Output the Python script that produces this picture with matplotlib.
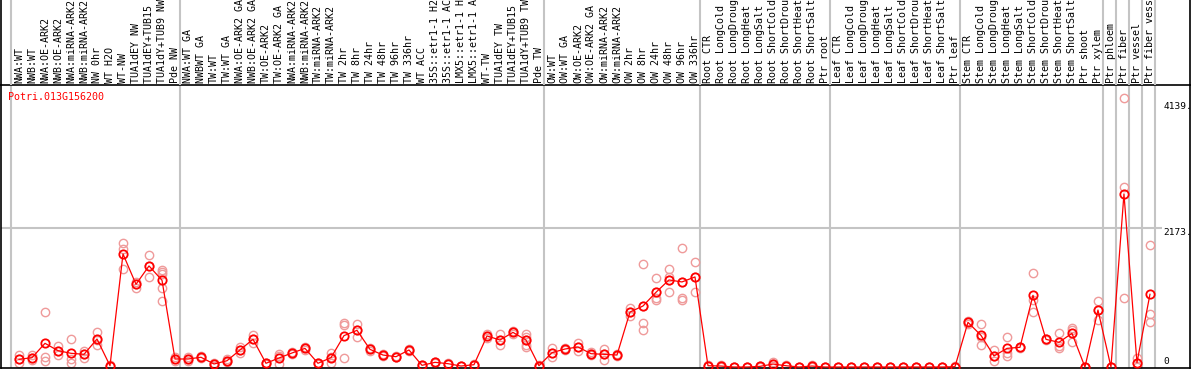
import numpy as np
import matplotlib
matplotlib.use("Agg")
import matplotlib.pyplot as plt

# ---------------- data ----------------
samples = [
    "NWA:WT", "NWB:WT", "NWA:OE-ARK2", "NWB:OE-ARK2", "NWA:miRNA-ARK2", "NWB:miRNA-ARK2",
    "NW 0hr", "WT H2O", "WT-NW", "TUA1dEY NW", "TUA1dEY+TUB15 NW", "TUA1dY+TUB9 NW", "Pde NW",
    "NWA:WT GA", "NWBWT GA", "TW:WT", "TW:WT GA", "NWA:OE-ARK2 GA", "NWB:OE-ARK2 GA",
    "TW:OE-ARK2", "TW:OE-ARK2 GA", "NWA:miRNA-ARK2", "NWB:miRNA-ARK2", "TW:miRNA-ARK2",
    "TW:miRNA-ARK2", "TW 2hr", "TW 8hr", "TW 24hr", "TW 48hr", "TW 96hr", "TW 336hr",
    "WT ACC", "35S::etr1-1 H2O", "35S::etr1-1 ACC", "LMX5::etr1-1 H2O", "LMX5::etr1-1 ACC",
    "WT-TW", "TUA1dEY TW", "TUA1dEY+TUB15 TW", "TUA1dY+TUB9 TW", "Pde TW",
    "OW:WT", "OW:WT GA", "OW:OE-ARK2", "OW:OE-ARK2 GA", "OW:miRNA-ARK2", "OW:miRNA-ARK2",
    "OW 2hr", "OW 8hr", "OW 24hr", "OW 48hr", "OW 96hr", "OW 336hr",
    "Root CTR", "Root LongCold", "Root LongDrought", "Root LongHeat", "Root LongSalt",
    "Root ShortCold", "Root ShortDrought", "Root ShortHeat", "Root ShortSalt", "Ptr root",
    "Leaf CTR", "Leaf LongCold", "Leaf LongDrought", "Leaf LongHeat", "Leaf LongSalt",
    "Leaf ShortCold", "Leaf ShortDrought", "Leaf ShortHeat", "Leaf ShortSalt", "Ptr leaf",
    "Stem CTR", "Stem LongCold", "Stem LongDrought", "Stem LongHeat", "Stem LongSalt",
    "Stem ShortCold", "Stem ShortDrought", "Stem ShortHeat", "Stem ShortSalt", "Ptr shoot",
    "Ptr xylem", "Ptr phloem", "Ptr fiber", "Ptr vessel", "Ptr fiber vessel",
]

mean_expr = [
    120, 146, 370, 255, 214, 198, 437, 20, 1766, 1292, 1579, 1355, 125,
    125, 152, 47, 98, 266, 433, 58, 141, 219, 291, 58, 146,
    490, 573, 276, 187, 161, 266, 26, 73, 52, 15, 36, 485, 422, 541, 422, 20,
    224, 281, 313, 208, 198, 187, 859, 953, 1167, 1360, 1329, 1407,
    20, 15, 0, 0, 10, 46, 20, 0, 15, 0,
    0, 0, 0, 0, 0, 0, 0, 0, 0, 5,
    698, 495, 172, 291, 308, 1120, 432, 386, 526, 0,
    890, 0, 2704, 68, 1136,
]

replicates = [
    [187, 120, 58], [187, 146, 105], [859, 161, 98], [333, 255, 187], [437, 120, 68],
    [255, 198, 141], [542, 425, 344], [15, 20, 25], [1933, 1840, 1527], [1334, 1292, 1230],
    [1751, 1579, 1402], [1516, 1480, 1448, 1240, 1031], [160, 120, 95],
    [152, 125, 98], [165, 152, 140], [70, 50, 20], [120, 98, 76], [318, 266, 214],
    [500, 433, 370], [70, 58, 46], [204, 172, 47], [240, 219, 198], [320, 291, 262],
    [70, 58, 46], [214, 152, 68],
    [683, 660, 135], [667, 573, 474], [300, 276, 250], [200, 187, 175], [170, 161, 150],
    [280, 266, 250], [35, 26, 15], [85, 73, 60], [60, 52, 45], [20, 15, 10], [45, 36, 28],
    [520, 485, 450], [516, 422, 344], [562, 541, 520], [516, 474, 422, 344, 308], [35, 20, 5],
    [300, 224, 150], [300, 281, 262], [370, 313, 250], [230, 208, 186], [285, 198, 115],
    [200, 187, 174], [917, 859, 800], [1605, 953, 683, 578], [1386, 1167, 1074, 1047],
    [1527, 1412, 1360, 1167], [1855, 1329, 1074, 1047], [1636, 1407, 1167],
    [30, 20, 10], [25, 15, 5], [0, 0, 0], [0, 0, 0], [20, 10, 0], [80, 46, 10],
    [30, 20, 10], [0, 0, 0], [25, 15, 5], [0, 0, 0],
    [0, 0, 0], [0, 0, 0], [0, 0, 0], [0, 0, 0], [0, 0, 0], [0, 0, 0], [0, 0, 0],
    [0, 0, 0], [0, 0, 0], [10, 5, 0],
    [720, 698, 676], [667, 470, 350], [266, 172, 94], [465, 224, 172], [320, 308, 296],
    [1464, 1040, 856], [445, 432, 420], [526, 330, 304], [605, 580, 392], [0, 0, 0],
    [1031, 890, 735], [0, 0, 0], [4200, 2818, 1074], [136, 68, 5], [1907, 824, 698],
]

gene_id = "Potri.013G156200"
tick_values = [0, 2173, 4139]
tick_texts = ["0", "2173.", "4139."]
# group boundaries (between sample positions)
group_edges = [-0.6, 12.4, 40.4, 52.4, 62.4, 72.4, 83.4, 84.4, 85.4, 86.4, 87.4]

# ---------------- layout ----------------
W, H = 1194, 370
fig = plt.figure(figsize=(W / 100, H / 100), dpi=100)
mono = "DejaVu Sans Mono"

ax = fig.add_axes([1 / W, 2 / H, 1189 / W, 283 / H])
lab = fig.add_axes([1 / W, 285 / H, 1189 / W, 85 / H])

xl = (-1.385, 90.08)
ax.set_xlim(*xl)
ax.set_ylim(-15.6, 4406)
lab.set_xlim(*xl)
lab.set_ylim(0, 1)

x = np.arange(len(samples))

grid_c = "#c4c4c4"
for b in group_edges:
    ax.axvline(b, color=grid_c, lw=1.5, zorder=0)
    lab.axvline(b, color=grid_c, lw=1.5, zorder=0)
ax.hlines(tick_values[1], xl[0], 87.9, color=grid_c, lw=1.5, zorder=0)

# replicates
for k, reps in enumerate(replicates):
    ax.plot([k] * len(reps), reps, linestyle="none", marker="o", mfc="none",
            mec="#ef9a9a", ms=6, mew=1.0, zorder=2)

# mean line
ax.plot(x, mean_expr, color="red", lw=0.9, marker="o", mfc="none", mec="red",
        ms=6, mew=1.3, zorder=3)

ax.set_xticks([])
ax.set_yticks([])
for s in ax.spines.values():
    s.set_color("black")
    s.set_linewidth(1.2)

lab.set_xticks([])
lab.set_yticks([])
for name, s in lab.spines.items():
    if name in ("left", "right"):
        s.set_color("black")
        s.set_linewidth(1.2)
    else:
        s.set_visible(False)
lab.patch.set_alpha(0)

for k, name in enumerate(samples):
    lab.text(k, 0.025, name, rotation=90, ha="center", va="bottom",
             fontsize=7.2, family=mono, color="black")

offsets = [3.8, -3.1, -3.1]
for v, t, off in zip(tick_values, tick_texts, offsets):
    ax.annotate(t, xy=(88.02, v), xytext=(0, off), textcoords="offset points",
                ha="left", va="center", fontsize=6.8, family=mono, color="black")

ax.text(7 / 1189, (368 - 97) / 283, gene_id, transform=ax.transAxes, color="red",
        fontsize=7.2, family=mono, ha="left", va="center")

fig.savefig("out.png", dpi=100)
